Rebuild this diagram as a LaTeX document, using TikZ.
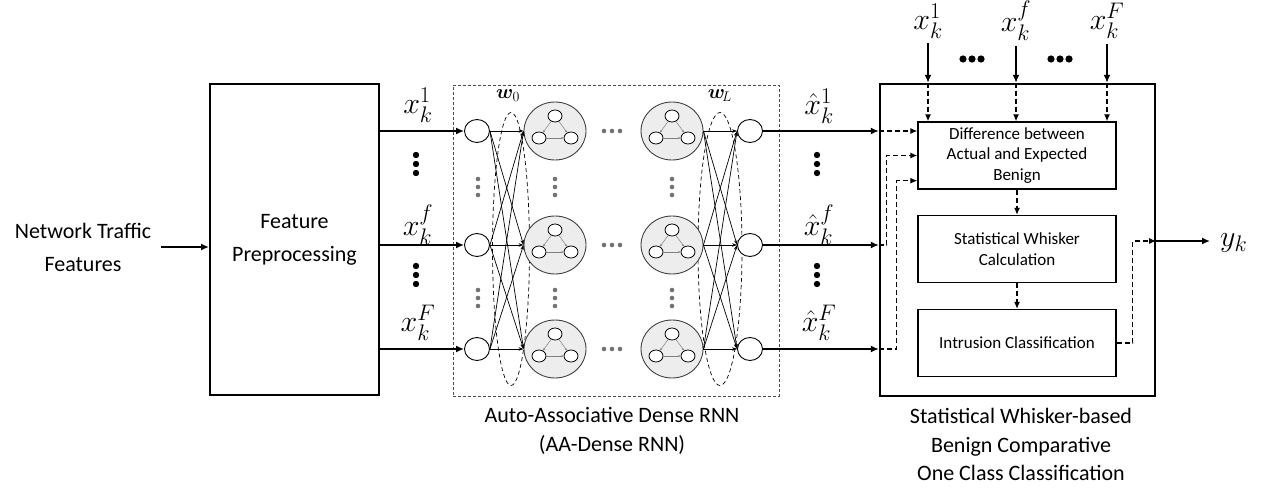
\RequirePackage{fix-cm}
\documentclass[tikz,border=0pt]{standalone}
\usepackage{amsmath,bm}
\usepackage{fontspec}
\setmainfont{Carlito}
\DeclareMathSizes{30}{30}{22.5}{17}
\usetikzlibrary{arrows.meta,shapes.geometric,calc}
\begin{document}
\begin{tikzpicture}[x=1pt,y=-1pt,
  big/.style={font=\fontsize{22}{33}\selectfont, align=center, inner sep=0pt},
  biglab/.style={font=\fontsize{22}{28.5}\selectfont, align=center, inner sep=0pt},
  small/.style={font=\fontsize{17}{20.5}\selectfont, align=center},
  mlab/.style={font=\fontsize{30}{32}\selectfont, inner sep=0pt},
  wlab/.style={font=\fontsize{20}{22}\selectfont, inner sep=0pt},
  arr/.style={line width=1.8pt, -{Latex[length=8pt,width=7pt]}},
  darr/.style={line width=1.1pt, dash pattern=on 5pt off 3pt, -{Latex[length=7pt,width=6pt]}},
  dline/.style={line width=1.1pt, dash pattern=on 5pt off 3pt},
  neuron/.style={ellipse, draw, line width=0.9pt, minimum width=25pt, minimum height=23pt, inner sep=0pt, fill=white},
  hid/.style={ellipse, draw=black!75, line width=0.9pt, fill=black!7, minimum width=62pt, minimum height=58pt, inner sep=0pt},
  subn/.style={ellipse, draw, line width=0.8pt, fill=white, minimum width=14pt, minimum height=12pt, inner sep=0pt},
  conn/.style={line width=0.7pt, -{Stealth[length=5pt,width=3.5pt]}},
  inconn/.style={black!50, line width=0.5pt, -{Stealth[length=2.5pt,width=2pt]}},
  wring/.style={ellipse, draw, line width=0.7pt, dash pattern=on 4pt off 3pt, inner sep=0pt},
  gdot/.style={fill=black!55},
  innerbox/.style={draw, line width=1.4pt, minimum width=198pt, minimum height=67pt, small}
]
\useasboundingbox (0,0) rectangle (1265,489);

% left part
\node[big] (ntf) at (83,247) {Network Traffic\\Features};
\node[draw, line width=2pt, minimum width=169pt, minimum height=311pt, big] (fp) at (294.5,239.5) {Feature\\Preprocessing};
\draw[arr, shorten <=10pt] (ntf.east) -- (ntf.east -| fp.west);

% RNN box
\node[draw=black!70, line width=0.8pt, dash pattern=on 3pt off 2pt, minimum width=326pt, minimum height=311pt] (rnn) at (616,240.5) {};
\node[biglab] (rnnlab) at (612,431) {Auto-Associative Dense RNN\\(AA-Dense RNN)};

% weight rings
\node[wring, minimum width=37pt, minimum height=273pt] (w0) at (511,249) {};
\node[wring, minimum width=44pt, minimum height=273pt] (wL) at (720,249) {};
\node[wlab] (w0lab) at (508,96) {$\bm{w}_0$};
\node[wlab] (wLlab) at (720,96) {$\bm{w}_{\!L}$};

% neurons
\foreach \r/\y in {1/131,2/245,3/349}{
  \node[neuron] (i\r) at (477,\y) {};
  \node[hid] (ha\r) at (555,\y) {};
  \node[hid] (hb\r) at (672,\y) {};
  \node[neuron] (o\r) at (750,\y) {};
}
\foreach \h in {ha1,ha2,ha3,hb1,hb2,hb3}{
  \node[subn] (\h-t) at ([shift={(0pt,15pt)}]\h.center) {};
  \node[subn] (\h-l) at ([shift={(-16pt,-7pt)}]\h.center) {};
  \node[subn] (\h-r) at ([shift={(16pt,-7pt)}]\h.center) {};
  \draw[inconn] (\h-t) -- (\h-l);
  \draw[inconn] (\h-t) -- (\h-r);
  \draw[inconn] (\h-l) -- (\h-r);
}
\foreach \a in {1,2,3}{
  \foreach \b in {1,2,3}{
    \draw[conn] (i\a.east) -- (ha\b.west);
    \draw[conn] (hb\a.east) -- (o\b.west);
  }
}

% gray dots
\foreach \x in {478,555,672}{
  \foreach \y in {179,187,195,290,298,306}{
    \fill[gdot] (\x,\y) circle (2.3);
  }
}
\foreach \y in {131,245,349}{
  \foreach \x in {604,612,620}{
    \fill[gdot] (\x,\y) circle (2.3);
  }
}

% feature arrows in
\foreach \r in {1,2,3}{
  \draw[arr] (fp.east |- i\r.west) -- (i\r.west);
}
\node[mlab] (lx1) at (418,105) {$x_k^1$};
\node[mlab] (lxf) at (418,225) {$x_k^f$};
\node[mlab] (lxF) at (418,323) {$x_k^F$};
\foreach \y in {155,164,173,266,275,284}{
  \fill (416,\y) circle (3.2);
  \fill (817,\y) circle (3.2);
}

% right box
\node[draw, line width=2.3pt, minimum width=275pt, minimum height=312pt] (rb) at (1017.5,240) {};
\node[biglab] (rblab) at (1021,444.5) {Statistical Whisker-based\\Benign Comparative\\One Class Classification};
\node[innerbox] (b1) at (1017,155.5) {Difference between\\Actual and Expected\\Benign};
\node[innerbox] (b2) at (1017,249) {Statistical Whisker\\Calculation};
\node[innerbox] (b3) at (1017,343) {Intrusion Classification};
\draw[darr] (b1.south) -- (b2.north);
\draw[darr] (b2.south) -- (b3.north);

% outputs of RNN
\foreach \r in {1,2,3}{
  \draw[arr] (o\r.east) -- (o\r.east -| rb.west);
}
\node[mlab] (hx1) at (819,106) {$\hat{x}_k^1$};
\node[mlab] (hxf) at (819,225) {$\hat{x}_k^f$};
\node[mlab] (hxF) at (819,323) {$\hat{x}_k^F$};
\draw[darr] (o1.east -| rb.west) -- (o1.east -| b1.west);
\draw[darr] (o2.east -| rb.west) -- ++(8,0) |- (b1.west);
\draw[darr] (o3.east -| rb.west) -- ++(18,0) |- ([yshift=9pt]b1.south west);

% top inputs
\node[mlab] (tx1) at (928,21) {$x_k^1$};
\node[mlab] (txf) at (1016,21) {$x_k^f$};
\node[mlab] (txF) at (1107,21) {$x_k^F$};
\foreach \t in {tx1,txf,txF}{
  \draw[arr, shorten <=5pt] (\t.south) -- (\t.south |- rb.north);
  \draw[darr] (\t.south |- rb.north) -- (\t.south |- b1.north);
}
\foreach \x in {963,972,981,1051,1060,1069}{
  \fill (\x,59) circle (3.6);
}

% output
\node[mlab, anchor=west] (yk) at (1220,243) {$y_k$};
\coordinate (yend) at (1210,241);
\draw[darr] (b3.east) -- ++(16,0) |- (rb.east |- yend);
\draw[arr] (rb.east |- yend) -- (yend);
\end{tikzpicture}
\end{document}
